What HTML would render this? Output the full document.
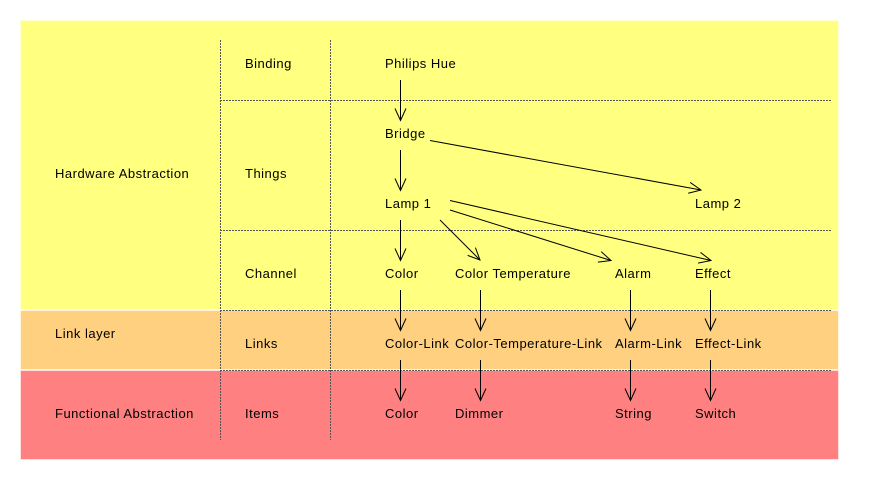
<!DOCTYPE html>
<html>
<head>
<meta charset="utf-8">
<style>
  html, body { margin: 0; padding: 0; background: #ffffff; }
  svg { display: block; }
  text { font-family: "Liberation Sans", Arial, sans-serif; font-size: 13px; letter-spacing: 0.5px; fill: #000; }
</style>
</head>
<body>
<svg width="870" height="480" viewBox="0 0 870 480" xmlns="http://www.w3.org/2000/svg">
  <defs>
    <marker id="ah" viewBox="0 0 14 12" refX="13" refY="6" markerWidth="14" markerHeight="12" markerUnits="userSpaceOnUse" orient="auto">
      <path d="M1,0.5 L13,6 L1,11.5" fill="none" stroke="#000" stroke-width="1"/>
    </marker>
  </defs>

  <!-- bands -->
  <rect x="20.5" y="20.5" width="818" height="289" fill="#ffff80" stroke="#ffffd8" stroke-width="1"/>
  <rect x="20.5" y="310.5" width="818" height="59" fill="#ffd080" stroke="#fff4e0" stroke-width="1"/>
  <rect x="20.5" y="370.5" width="818" height="89" fill="#ff8080" stroke="#ffe0e0" stroke-width="1"/>

  <!-- dashed grid -->
  <g stroke="#555" stroke-width="1" stroke-dasharray="2,1" fill="none">
    <line x1="220.5" y1="40" x2="220.5" y2="440"/>
    <line x1="330.5" y1="40" x2="330.5" y2="440"/>
    <line x1="220" y1="100.5" x2="831" y2="100.5"/>
    <line x1="220" y1="230.5" x2="831" y2="230.5"/>
    <line x1="220" y1="310.5" x2="831" y2="310.5"/>
    <line x1="220" y1="370.5" x2="831" y2="370.5"/>
  </g>

  <!-- labels left -->
  <text x="55" y="178">Hardware Abstraction</text>
  <text x="55" y="338">Link layer</text>
  <text x="55" y="418">Functional Abstraction</text>

  <text x="245" y="68">Binding</text>
  <text x="245" y="178">Things</text>
  <text x="245" y="278">Channel</text>
  <text x="245" y="348">Links</text>
  <text x="245" y="418">Items</text>

  <!-- nodes -->
  <text x="385" y="68">Philips Hue</text>
  <text x="385" y="138">Bridge</text>
  <text x="385" y="208">Lamp 1</text>
  <text x="695" y="208">Lamp 2</text>

  <text x="385" y="278">Color</text>
  <text x="455" y="278">Color Temperature</text>
  <text x="615" y="278">Alarm</text>
  <text x="695" y="278">Effect</text>

  <text x="385" y="348">Color-Link</text>
  <text x="455" y="348">Color-Temperature-Link</text>
  <text x="615" y="348">Alarm-Link</text>
  <text x="695" y="348">Effect-Link</text>

  <text x="385" y="418">Color</text>
  <text x="455" y="418">Dimmer</text>
  <text x="615" y="418">String</text>
  <text x="695" y="418">Switch</text>

  <!-- arrows -->
  <g stroke="#000" stroke-width="1" fill="none" marker-end="url(#ah)">
    <line x1="400.5" y1="80" x2="400.5" y2="120.5"/>
    <line x1="400.5" y1="150" x2="400.5" y2="190.5"/>
    <line x1="430" y1="140.5" x2="701" y2="190"/>
    <line x1="400.5" y1="220" x2="400.5" y2="260.5"/>
    <line x1="440" y1="220" x2="480" y2="260"/>
    <line x1="450" y1="210" x2="611" y2="260.5"/>
    <line x1="450" y1="200.5" x2="711" y2="260.5"/>

    <line x1="400.5" y1="290" x2="400.5" y2="330.5"/>
    <line x1="480.5" y1="290" x2="480.5" y2="330.5"/>
    <line x1="630.5" y1="290" x2="630.5" y2="330.5"/>
    <line x1="710.5" y1="290" x2="710.5" y2="330.5"/>

    <line x1="400.5" y1="360" x2="400.5" y2="400.5"/>
    <line x1="480.5" y1="360" x2="480.5" y2="400.5"/>
    <line x1="630.5" y1="360" x2="630.5" y2="400.5"/>
    <line x1="710.5" y1="360" x2="710.5" y2="400.5"/>
  </g>
</svg>
</body>
</html>
